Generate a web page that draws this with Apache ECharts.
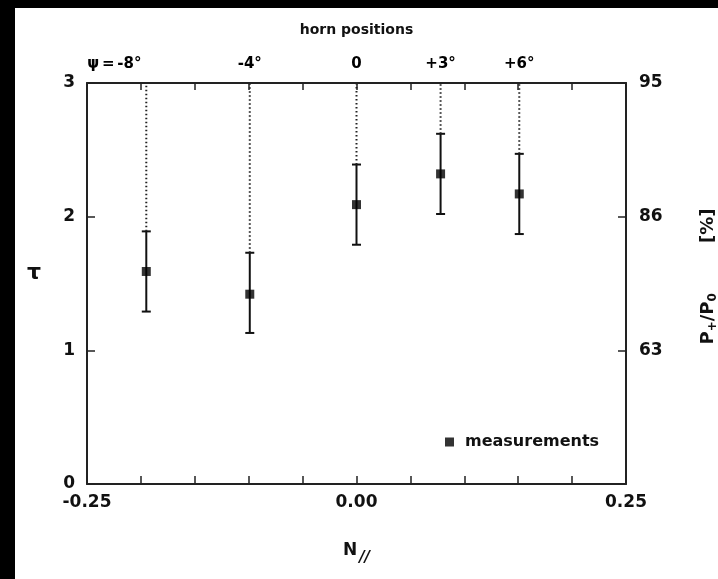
<!DOCTYPE html>
<html><head><meta charset="utf-8">
<script src="https://cdn.jsdelivr.net/npm/echarts@6/dist/echarts.min.js"></script>
<style>
html,body{margin:0;padding:0;background:#000;width:718px;height:579px;overflow:hidden}
#c{position:absolute;left:15px;top:8px;width:703px;height:571px;background:#fff}
</style></head><body><div id="c"></div>
<script>
// N_parallel positions of the horn settings
const nPar = [-0.195, -0.099, 0.0, 0.078, 0.151];
// tau values and error bar limits
const tau = [1.59, 1.42, 2.09, 2.32, 2.17];
const tauLow = [1.29, 1.13, 1.79, 2.02, 1.87];
const tauHigh = [1.89, 1.73, 2.39, 2.62, 2.47];
// horn position labels on top
const hornLabels = ['ψ{s| }={s| }-8°', '-4°', '0', '+3°', '+6°'];
// bottom axis tick labels
const xTickValues = [-0.25, 0, 0.25];
const xTickLabels = ['-0.25', '0.00', '0.25'];
// left and right tick labels (at tau = 0,1,2,3)
const leftTicks = ['0', '1', '2', '3'];
const rightTicks = ['', '63', '86', '95'];

const FONT = 'DejaVu Sans';
const TXT = '#111';
const baseText = {fontFamily: FONT, fontSize: 17, fontWeight: 'bold', color: TXT};

const chart = echarts.init(document.getElementById('c'), null, {renderer: 'canvas'});

const axisLine = {show: true, onZero: false, lineStyle: {color: '#222', width: 2}};

const option = {
  backgroundColor: '#fff',
  animation: false,
  grid: {left: 72, top: 75, width: 539, height: 401, containLabel: false, outerBoundsMode: 'none'},
  legend: {
    data: [{name: 'measurements', icon: 'rect'}],
    left: 425, top: 421,
    itemWidth: 9, itemHeight: 9,
    textStyle: Object.assign({}, baseText, {fontSize: 16, padding: [0, 0, 0, 6]})
  },
  xAxis: [{
    type: 'value', position: 'bottom', min: -0.25, max: 0.25, interval: 0.05,
    axisLine: axisLine,
    axisTick: {inside: true, length: 8, lineStyle: {color: '#222', width: 1.5}},
    splitLine: {show: false},
    axisLabel: Object.assign({}, baseText, {
      margin: 10,
      formatter: v => {
        for (let i = 0; i < xTickValues.length; i++) if (Math.abs(v - xTickValues[i]) < 1e-9) return xTickLabels[i];
        return '';
      }
    }),
    name: 'N{sub|//}',
    nameLocation: 'middle', nameGap: 51,
    nameTextStyle: Object.assign({}, baseText, {fontSize: 17,
      rich: {sub: {fontFamily: FONT, fontSize: 15, fontWeight: 'bold', fontStyle: 'italic', color: TXT, verticalAlign: 'bottom', padding: [16, 0, 0, 2]}}})
  }, {
    type: 'value', position: 'top', min: -0.25, max: 0.25, interval: 0.05,
    axisLine: axisLine,
    axisTick: {inside: true, length: 7, lineStyle: {color: '#222', width: 1.5}},
    splitLine: {show: false},
    axisLabel: {show: false},
    name: 'horn positions', nameLocation: 'middle', nameGap: 46,
    nameTextStyle: Object.assign({}, baseText, {fontSize: 14})
  }],
  yAxis: [{
    type: 'value', position: 'left', min: 0, max: 3, interval: 1,
    axisLine: axisLine,
    axisTick: {inside: true, length: 8, lineStyle: {color: '#222', width: 1.5}},
    splitLine: {show: false},
    axisLabel: Object.assign({}, baseText, {margin: 12, formatter: v => leftTicks[Math.round(v)]}),
    name: '{t|τ}', nameLocation: 'middle', nameGap: 46, nameRotate: 0,
    nameTextStyle: Object.assign({}, baseText, {fontSize: 22,
      rich: {t: {fontFamily: FONT, fontSize: 22, fontWeight: 'bold', color: TXT, padding: [0, 0, 20, 0]}}})
  }, {
    type: 'value', position: 'right', min: 0, max: 3, interval: 1,
    axisLine: axisLine,
    axisTick: {inside: true, length: 8, lineStyle: {color: '#222', width: 1.5}},
    splitLine: {show: false},
    axisLabel: Object.assign({}, baseText, {margin: 13, formatter: v => rightTicks[Math.round(v)]}),
    name: 'P{sub|+}/P{sub|0}        [%]', nameLocation: 'middle', nameGap: 72, nameRotate: 90,
    nameTextStyle: Object.assign({}, baseText, {fontSize: 18, padding: [0, 0, 0, 14],
      rich: {sub: {fontFamily: FONT, fontSize: 12, fontWeight: 'bold', color: TXT, padding: [9, 0, 0, 0]}}})
  }],
  series: [{
    type: 'custom',
    name: 'errors',
    xAxisIndex: 0, yAxisIndex: 0,
    data: nPar.map((x, i) => [x, tauLow[i], tauHigh[i]]),
    encode: {x: 0, y: [1, 2]},
    renderItem: (params, api) => {
      const x = api.value(0), lo = api.value(1), hi = api.value(2);
      const pLo = api.coord([x, lo]);
      const pHi = api.coord([x, hi]);
      const pTop = api.coord([x, 3]);
      const cw = 4.5;
      const st = {stroke: '#111', lineWidth: 2};
      return {type: 'group', children: [
        {type: 'line', shape: {x1: pLo[0], y1: pLo[1], x2: pHi[0], y2: pHi[1]}, style: st},
        {type: 'line', shape: {x1: pLo[0] - cw, y1: pLo[1], x2: pLo[0] + cw, y2: pLo[1]}, style: st},
        {type: 'line', shape: {x1: pHi[0] - cw, y1: pHi[1], x2: pHi[0] + cw, y2: pHi[1]}, style: st},
        {type: 'line', shape: {x1: pHi[0], y1: pHi[1], x2: pTop[0], y2: pTop[1]},
          style: {stroke: '#222', lineWidth: 2, lineDash: [1.5, 2.5]}}
      ]};
    },
    silent: true, z: 2
  }, {
    type: 'scatter',
    name: 'measurements',
    xAxisIndex: 0, yAxisIndex: 0,
    symbol: 'rect', symbolSize: 9,
    itemStyle: {color: '#000'},
    data: nPar.map((x, i) => [x, tau[i]]),
    z: 3
  }, {
    type: 'scatter',
    name: 'horn',
    xAxisIndex: 1, yAxisIndex: 0,
    symbol: 'circle', symbolSize: 1,
    itemStyle: {color: 'rgba(0,0,0,0)'},
    silent: true,
    clip: false,
    data: nPar.map((x, i) => ({
      value: [x, 3],
      label: {formatter: hornLabels[i], offset: i === 0 ? [-32, 0] : [0, 0]}
    })),
    label: Object.assign({}, baseText, {show: true, position: 'top', distance: 11, fontSize: 15, color: '#000', opacity: 1, textBorderWidth: 0,
      rich: {s: {fontFamily: FONT, fontSize: 8, fontWeight: 'bold', color: '#000'}}})
  }]
};
chart.setOption(option);
</script></body></html>
